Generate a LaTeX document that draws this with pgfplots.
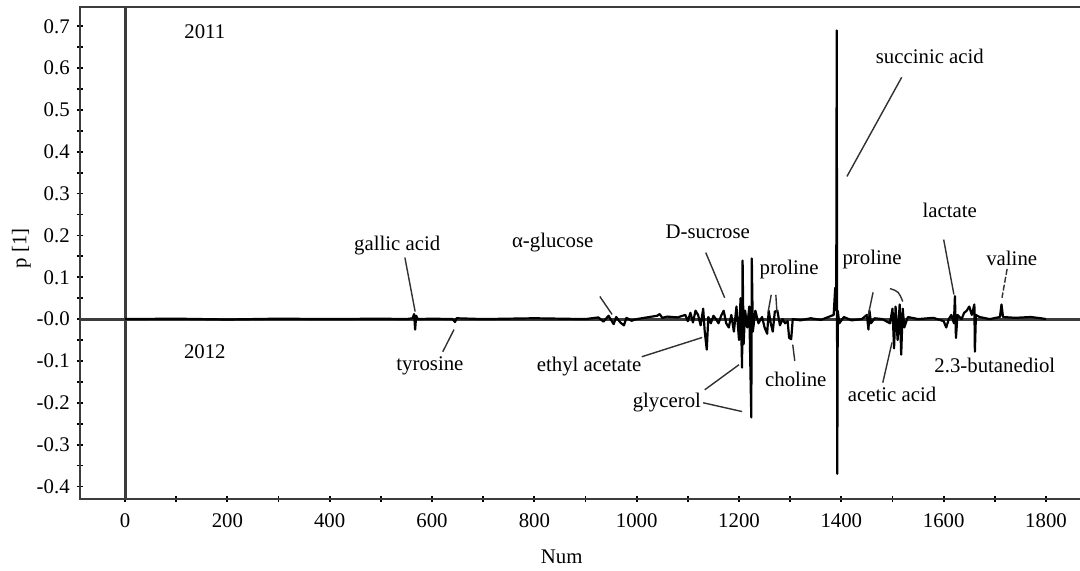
\documentclass[border=0pt]{standalone}
\usepackage{pgfplots}
\pgfplotsset{compat=1.18}
\usepackage{fontspec}
\setmainfont{Liberation Serif}
\definecolor{axgray}{HTML}{3C3C3C}
\definecolor{leadgray}{HTML}{303030}
\begin{document}
\fontsize{10.4}{12}\selectfont
\begin{tikzpicture}
\begin{axis}[
  at={(0,0)}, anchor=south west,
  scale only axis, width=505pt, height=246pt,
  xmin=-88, xmax=1886, ymin=-0.430, ymax=0.746,
  axis line style={axgray, line width=1.1pt},
  xtick={0,200,400,600,800,1000,1200,1400,1600,1800},
  minor xtick={100,300,500,700,900,1100,1300,1500,1700},
  ytick={-0.4,-0.3,-0.2,-0.1,0,0.1,0.2,0.3,0.4,0.5,0.6,0.7},
  yticklabels={-0.4,-0.3,-0.2,-0.1,-0.0,0.1,0.2,0.3,0.4,0.5,0.6,0.7},
  minor ytick={-0.35,-0.25,-0.15,-0.05,0.05,0.15,0.25,0.35,0.45,0.55,0.65},
  tick align=center,
  major tick length=3pt, minor tick length=3pt,
  tick style={black, line width=0.9pt},
  xtick pos=bottom, ytick pos=left,
  /pgf/number format/assume math mode=true,
  /pgf/number format/1000 sep={},
  xticklabel style={font=\fontsize{10.4}{12}\selectfont, yshift=-2pt},
  yticklabel style={font=\fontsize{10.4}{12}\selectfont},
  scaled y ticks=false,
  xlabel={Num}, ylabel={p [1]},
  xlabel style={at={(axis description cs:0.477,-0.118)}, anchor=center},
  ylabel style={at={(axis description cs:-0.058,0.51)}, anchor=center},
  clip=true,
]
% zero reference lines
\addplot[draw=axgray, line width=1.5pt] coordinates {(0,-0.43) (0,0.746)};
\addplot[draw=axgray, line width=1.5pt] coordinates {(-88,0) (1886,0)};
% loadings
\addplot[black, line width=1.1pt, line join=round] coordinates {
(0,0) (100,0.001) (200,-0.001) (300,0.001) (400,0) (500,0.001) (550,0)
(562,0.002) (565,0.012) (567,-0.025) (569,0.008) (572,0) (600,0.001)
(640,0) (645,-0.007) (648,0.002) (700,0) (800,0.002) (900,0)
(925,0.004) (935,-0.006) (945,0.008) (955,-0.012) (960,0.005) (968,-0.008)
(975,-0.015) (980,0.003) (990,-0.004) (1000,0) (1020,0.004) (1040,0.008)
(1045,0.012) (1050,0.003) (1060,0.006) (1080,0.004) (1095,0.01) (1100,-0.005)
(1105,0.015) (1110,-0.008) (1115,0.02) (1120,0.01) (1125,-0.015) (1130,0.025)
(1133,-0.03) (1137,-0.073) (1140,0.005) (1145,-0.01) (1150,0.008) (1155,0)
(1160,-0.01) (1165,0.008) (1170,0.02) (1175,-0.01) (1180,-0.02) (1185,0.01)
(1190,-0.03) (1195,0.03) (1200,-0.05) (1203,0.05) (1206,-0.116) (1207,0.14)
(1209,-0.06) (1212,0.02) (1216,-0.02) (1220,0.03) (1224,-0.235) (1225,0.145)
(1227,-0.03) (1232,0.02) (1238,-0.01) (1245,0.005) (1250,-0.02) (1255,-0.035)
(1258,0.02) (1262,-0.01) (1266,-0.03) (1270,0.018) (1275,0.02) (1280,-0.015)
(1285,0) (1290,-0.01) (1295,-0.005) (1298,-0.045) (1302,-0.048) (1305,0)
(1320,-0.003) (1340,0.002) (1360,-0.002) (1385,0.01) (1388,0.075) (1390,0.02)
(1391,0.69) (1392,-0.37) (1393,0.02) (1396,-0.01) (1405,0.005) (1420,-0.003)
(1440,0) (1450,0.01) (1453,-0.025) (1455,0.02) (1458,-0.01) (1465,0.002)
(1480,0) (1495,-0.01) (1500,0.025) (1503,-0.07) (1506,0.03) (1510,-0.05)
(1514,0.035) (1517,-0.085) (1520,0.025) (1523,-0.02) (1530,0.005) (1550,0)
(1580,0.003) (1600,-0.005) (1605,-0.02) (1610,0) (1615,0.01) (1620,-0.01)
(1622,0.055) (1624,-0.045) (1627,0.01) (1635,0) (1640,0.015) (1645,0.02)
(1650,0.03) (1655,0.01) (1660,0.035) (1661,-0.078) (1663,0.01) (1670,0.005)
(1690,0) (1710,0.005) (1713,0.035) (1716,0.005) (1740,0.003) (1770,0.005)
(1790,0.002) (1800,0)
};
% leader lines
\begin{scope}[leadgray, line width=0.7pt]
\draw (axis cs:547,0.147) -- (axis cs:567,0.018);
\draw (axis cs:621,-0.078) -- (axis cs:643,-0.025);
\draw (axis cs:928,0.054) -- (axis cs:952,0.011);
\draw (axis cs:1135,0.159) -- (axis cs:1172,0.051);
\draw (axis cs:1263,0.058) -- (axis cs:1257,0.018);
\draw (axis cs:1272,0.058) -- (axis cs:1274,0.018);
\draw (axis cs:1305,-0.061) -- (axis cs:1309,-0.100);
\draw (axis cs:1010,-0.090) -- (axis cs:1128,-0.044);
\draw (axis cs:1133,-0.169) -- (axis cs:1200,-0.109);
\draw (axis cs:1130,-0.200) -- (axis cs:1206,-0.221);
\draw (axis cs:1518,0.578) -- (axis cs:1411,0.341);
\draw (axis cs:1462,0.064) -- (axis cs:1452,0.006);
\draw (axis cs:1495,0.073) .. controls (axis cs:1512,0.066) .. (axis cs:1520,0.042);
\draw (axis cs:1481,-0.152) -- (axis cs:1499,-0.056);
\draw (axis cs:1600,0.190) -- (axis cs:1620,0.059);
\draw[dash pattern=on 3pt off 1pt] (axis cs:1724,0.120) -- (axis cs:1714,0.051);
\end{scope}
% labels
\node at (axis cs:156,0.686) {2011};
\node at (axis cs:156,-0.078) {2012};
\node at (axis cs:532,0.176) {gallic acid};
\node at (axis cs:596,-0.111) {tyrosine};
\node at (axis cs:836,0.183) {α-glucose};
\node at (axis cs:1139,0.209) {D-sucrose};
\node at (axis cs:1298,0.118) {proline};
\node at (axis cs:907,-0.114) {ethyl acetate};
\node at (axis cs:1059,-0.200) {glycerol};
\node at (axis cs:1311,-0.145) {choline};
\node at (axis cs:1573,0.628) {succinic acid};
\node at (axis cs:1460,0.142) {proline};
\node at (axis cs:1499,-0.181) {acetic acid};
\node at (axis cs:1612,0.260) {lactate};
\node at (axis cs:1733,0.145) {valine};
\node at (axis cs:1700,-0.111) {2.3-butanediol};
\end{axis}
\pgfresetboundingbox
\path[use as bounding box] (-40pt,-36pt) rectangle (500pt,249.5pt);
\end{tikzpicture}
\end{document}
